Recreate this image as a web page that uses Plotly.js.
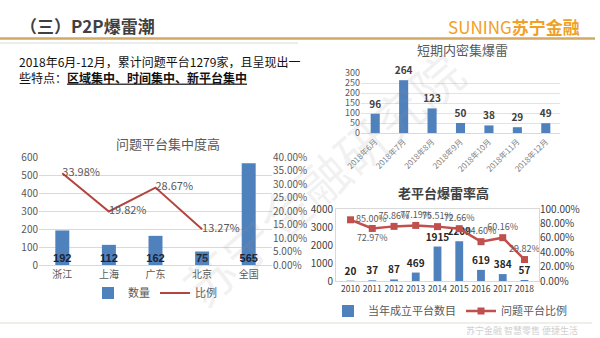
<!DOCTYPE html>
<html>
<head>
<meta charset="utf-8">
<script src="https://cdn.plot.ly/plotly-3.0.1.min.js"></script>
<style>html,body{margin:0;padding:0;background:#fff;}#chart{width:600px;height:338px;}</style>
</head>
<body>
<div id="chart"></div>
<script>
// ---- Data ----
const regions = ['浙江', '上海', '广东', '北京', '全国'];
const regionCounts = [192, 112, 162, 75, 565];
const regionShareCats = ['浙江', '上海', '广东', '北京'];
const regionShare = [0.3398, 0.1982, 0.2867, 0.1327];

const months = ['2018年6月', '2018年7月', '2018年8月', '2018年9月', '2018年10月', '2018年11月', '2018年12月'];
const monthCounts = [96, 264, 123, 50, 38, 29, 49];

const years = ['2010', '2011', '2012', '2013', '2014', '2015', '2016', '2017', '2018'];
const newPlatforms = [20, 37, 87, 469, 1915, 2209, 619, 384, 57];
const problemRate = [0.85, 0.7297, 0.7586, 0.7719, 0.7551, 0.7266, 0.546, 0.6016, 0.2982];
const rateLabelPos = ['middle right', 'bottom center', 'top center', 'top center', 'top center', 'top center', 'top center', 'top center', 'top center'];

const FONT = '"Noto Sans CJK SC", "Noto Sans", sans-serif';
const BLUE = '#4f81bd';
const RED = '#b5443f';
const GREY = '#595959';

const traces = [
  // Chart 1
  {type: 'bar', x: regions, y: regionCounts, name: '数量', marker: {color: BLUE}, width: 0.3,
   xaxis: 'x', yaxis: 'y', legend: 'legend', hoverinfo: 'skip'},
  {type: 'scatter', mode: 'lines+text', x: regionShareCats, y: regionShare, name: '比例',
   line: {color: RED, width: 2}, text: regionShare.map(v => (v * 100).toFixed(2) + '%'),
   textposition: 'middle right', textfont: {size: 11, color: GREY, family: FONT},
   xaxis: 'x', yaxis: 'y2', legend: 'legend', cliponaxis: false, hoverinfo: 'skip'},
  {type: 'scatter', mode: 'text', x: regions, y: regions.map(() => 0), text: regionCounts.map(String),
   textposition: 'top center', textfont: {size: 11, color: '#1c2233', family: 'Liberation Sans, Arial'},
   texttemplate: '<b>%{text}</b>',
   xaxis: 'x', yaxis: 'y', showlegend: false, hoverinfo: 'skip', cliponaxis: false},
  // Chart 2
  {type: 'bar', x: months, y: monthCounts, marker: {color: BLUE}, width: 0.32,
   text: monthCounts.map(String), texttemplate: '<b>%{text}</b>', textposition: 'outside', constraintext: 'none',
   textfont: {size: 10, color: '#404040', family: FONT}, cliponaxis: false,
   xaxis: 'x3', yaxis: 'y3', showlegend: false, hoverinfo: 'skip'},
  // Chart 3
  {type: 'bar', x: years, y: newPlatforms, name: '当年成立平台数目', marker: {color: BLUE}, width: 0.36,
   text: newPlatforms.map(String), texttemplate: '<b>%{text}</b>', textposition: 'outside', constraintext: 'none',
   textfont: {size: 10, color: '#262626', family: FONT}, cliponaxis: false,
   xaxis: 'x4', yaxis: 'y4', legend: 'legend2', hoverinfo: 'skip'},
  {type: 'scatter', mode: 'lines+markers+text', x: years, y: problemRate, name: '问题平台比例',
   line: {color: '#c0504d', width: 2.5}, marker: {symbol: 'square', size: 7, color: '#c0504d'},
   text: problemRate.map(v => (v * 100).toFixed(2) + '%'), textposition: rateLabelPos,
   textfont: {size: 9, color: GREY, family: FONT}, cliponaxis: false,
   xaxis: 'x4', yaxis: 'y5', legend: 'legend2', hoverinfo: 'skip'}
];

const W = 600, H = 338;
const px = v => v / W;
const py = v => 1 - v / H;
const tickf = {size: 10, color: GREY, family: FONT};

const layout = {
  width: W, height: H, margin: {l: 0, r: 0, t: 0, b: 0},
  paper_bgcolor: '#fff', plot_bgcolor: 'rgba(0,0,0,0)',
  font: {family: FONT, color: GREY},
  showlegend: true,
  // Chart 1 axes
  xaxis: {domain: [px(39), px(272)], anchor: 'y', showgrid: false, showline: true, linecolor: '#d9d9d9',
          ticks: '', tickfont: tickf, fixedrange: true},
  yaxis: {domain: [py(265), py(157)], range: [0, 600], dtick: 100, showgrid: true, gridcolor: '#d9d9d9',
          zeroline: false, ticks: '', tickfont: tickf, anchor: 'x'},
  yaxis2: {domain: [py(265), py(157)], range: [0, 0.4], dtick: 0.05, tickformat: '.2%', overlaying: 'y',
           side: 'right', showgrid: false, zeroline: false, ticks: '', tickfont: tickf, anchor: 'x'},
  // Chart 2 axes
  xaxis3: {domain: [px(361), px(560)], anchor: 'y3', showgrid: false, showline: true, linecolor: '#d9d9d9',
           ticks: '', tickangle: -45, tickmode: 'array', tickvals: months, ticktext: months,
           tickfont: {size: 8, color: '#7f7f7f', family: FONT}},
  yaxis3: {domain: [py(133), py(73)], range: [0, 300], dtick: 50, showgrid: true, gridcolor: '#e3e3e3',
           zeroline: false, ticks: '', tickfont: {size: 9, color: GREY, family: FONT}, anchor: 'x3'},
  // Chart 3 axes
  xaxis4: {domain: [px(336), px(539)], anchor: 'y4', showgrid: false, showline: true, mirror: true,
           linecolor: '#d9d9d9', ticks: '', tickmode: 'array', tickvals: years, ticktext: years, tickangle: 0,
           tickfont: {size: 8.5, color: '#404040', family: FONT}},
  yaxis4: {domain: [py(281), py(209)], range: [0, 4000], dtick: 1000, showgrid: false, showline: true, mirror: true,
           linecolor: '#d9d9d9', zeroline: false, ticks: '', tickfont: {size: 10, color: '#404040', family: FONT}, anchor: 'x4'},
  yaxis5: {domain: [py(281), py(209)], range: [0, 1], dtick: 0.2, tickformat: '.2%', overlaying: 'y4',
           side: 'right', showgrid: false, zeroline: false, ticks: '', tickfont: {size: 10, color: '#404040', family: FONT}, anchor: 'x4'},
  legend: {orientation: 'h', x: px(155), xanchor: 'center', y: py(293), yanchor: 'middle',
           font: {size: 11, color: GREY, family: FONT}, bgcolor: 'rgba(0,0,0,0)', itemwidth: 30},
  legend2: {orientation: 'h', x: px(450), xanchor: 'center', y: py(311), yanchor: 'middle',
            font: {size: 11, color: GREY, family: FONT}, bgcolor: 'rgba(0,0,0,0)', itemwidth: 30},
  shapes: [
    {type: 'line', xref: 'paper', yref: 'paper', x0: 0, x1: px(595), y0: py(38.5), y1: py(38.5),
     line: {color: '#d3a862', width: 2.5}},
    {type: 'line', xref: 'paper', yref: 'paper', x0: 0, x1: px(298), y0: py(43), y1: py(43),
     line: {color: '#d9d9d9', width: 1}},
    {type: 'line', xref: 'paper', yref: 'paper', x0: 0, x1: px(592), y0: py(323), y1: py(323),
     line: {color: '#e0ddd0', width: 1}}
  ],
  annotations: [
    {text: '<b>（三）P2P爆雷潮</b>', xref: 'paper', yref: 'paper', x: px(18), y: py(25), xanchor: 'left', yanchor: 'middle',
     showarrow: false, font: {size: 17, color: '#404040', family: FONT}},
    {text: 'SUNING<b>苏宁金融</b>', xref: 'paper', yref: 'paper', x: px(582), y: py(27), xanchor: 'right', yanchor: 'middle',
     showarrow: false, font: {size: 17, color: '#f0a024', family: FONT}},
    {text: '2018年6月-12月，累计问题平台1279家，且呈现出一<br>些特点：<b><u>区域集中、时间集中、新平台集中</u></b>',
     xref: 'paper', yref: 'paper', x: px(17), y: py(69), xanchor: 'left', yanchor: 'middle', align: 'left',
     showarrow: false, font: {size: 12, color: '#111', family: FONT}},
    {text: '问题平台集中度高', xref: 'paper', yref: 'paper', x: px(168), y: py(144), xanchor: 'center', yanchor: 'middle',
     showarrow: false, font: {size: 13, color: GREY, family: FONT}},
    {text: '短期内密集爆雷', xref: 'paper', yref: 'paper', x: px(462), y: py(50), xanchor: 'center', yanchor: 'middle',
     showarrow: false, font: {size: 13, color: GREY, family: FONT}},
    {text: '<b>老平台爆雷率高</b>', xref: 'paper', yref: 'paper', x: px(443), y: py(192), xanchor: 'center', yanchor: 'middle',
     showarrow: false, font: {size: 13, color: '#404040', family: FONT}},
    {text: '苏宁金融研究院', xref: 'paper', yref: 'paper', x: px(322), y: py(178), xanchor: 'center', yanchor: 'middle',
     textangle: -41, showarrow: false, font: {size: 50, color: 'rgba(150,150,150,0.13)', family: FONT}},
    {text: '苏宁金融 智慧零售 便捷生活', xref: 'paper', yref: 'paper', x: px(580), y: py(330), xanchor: 'right', yanchor: 'middle',
     showarrow: false, font: {size: 9, color: '#d0d0d0', family: FONT}}
  ]
};

Plotly.newPlot('chart', traces, layout, {displayModeBar: false, staticPlot: true});
</script>
</body>
</html>
